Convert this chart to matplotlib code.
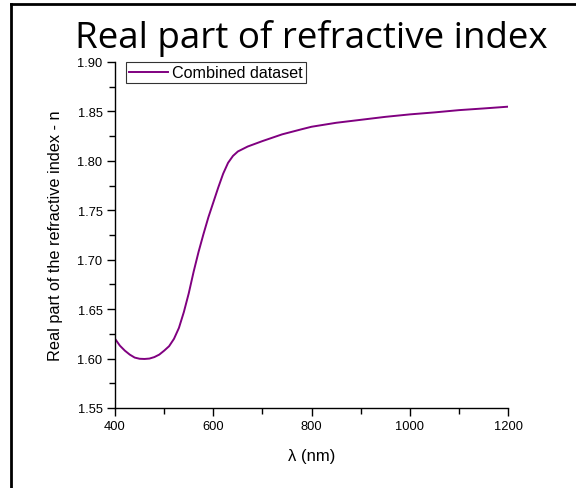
import matplotlib
matplotlib.use('Agg')
import matplotlib.pyplot as plt
from matplotlib.lines import Line2D
from matplotlib.ticker import MultipleLocator, FormatStrFormatter

# wavelength (nm) and real refractive index n
wavelength = [400, 410, 420, 430, 440, 450, 460, 470, 480, 490, 500, 510, 520,
              530, 540, 550, 560, 570, 580, 590, 600, 610, 620, 630, 640, 650,
              670, 700, 740, 780, 800, 850, 900, 950, 1000, 1050, 1100, 1150, 1200]
n_real = [1.620, 1.613, 1.608, 1.604, 1.601, 1.5998, 1.5996, 1.600, 1.6015,
          1.604, 1.608, 1.6125, 1.620, 1.631, 1.647, 1.666, 1.688, 1.708, 1.726,
          1.743, 1.758, 1.773, 1.787, 1.798, 1.805, 1.8095, 1.8145, 1.820,
          1.8268, 1.832, 1.8345, 1.8385, 1.8415, 1.8445, 1.847, 1.849, 1.8513,
          1.853, 1.8548]

plt.rcParams['font.family'] = ['Liberation Sans', 'DejaVu Sans']

fig = plt.figure(figsize=(5.76, 4.89), dpi=100)
ax = fig.add_axes([0.1997, 0.1636, 0.6826, 0.7076])

ax.plot(wavelength, n_real, color='#800080', lw=1.4, label='Combined dataset')

ax.set_xlim(400, 1200)
ax.set_ylim(1.55, 1.90)
ax.xaxis.set_major_locator(MultipleLocator(200))
ax.xaxis.set_minor_locator(MultipleLocator(100))
ax.yaxis.set_major_locator(MultipleLocator(0.05))
ax.yaxis.set_minor_locator(MultipleLocator(0.025))
ax.yaxis.set_major_formatter(FormatStrFormatter('%.2f'))
ax.tick_params(which='major', direction='out', length=6, width=1, labelsize=9.3,
               pad=3)
ax.tick_params(which='minor', direction='out', length=4, width=1)
ax.spines['top'].set_visible(False)
ax.spines['right'].set_visible(False)
for s in ('left', 'bottom'):
    ax.spines[s].set_linewidth(1.0)

ax.set_xlabel('λ (nm)', fontsize=12, labelpad=11)
ax.set_ylabel('Real part of the refractive index - n', fontsize=11.7, labelpad=10)

leg = ax.legend(loc='upper left', bbox_to_anchor=(0.027, 1.0), fontsize=11.6,
                frameon=True, fancybox=False, handlelength=2.4, handletextpad=0.3,
                borderpad=0.2, borderaxespad=0)
leg.get_frame().set_edgecolor('black')
leg.get_frame().set_linewidth(0.8)

fig.text(0.54, 0.922, 'Real part of refractive index', ha='center', va='center',
         fontsize=26.5, family=['Open Sans', 'DejaVu Sans'])

# slide frame
fig.add_artist(Line2D([0.019, 0.019], [0, 0.99], color='black', lw=2,
                      transform=fig.transFigure))
fig.add_artist(Line2D([0.019, 1.0], [0.99, 0.99], color='black', lw=2,
                      transform=fig.transFigure))

fig.savefig('out.png', dpi=100)
